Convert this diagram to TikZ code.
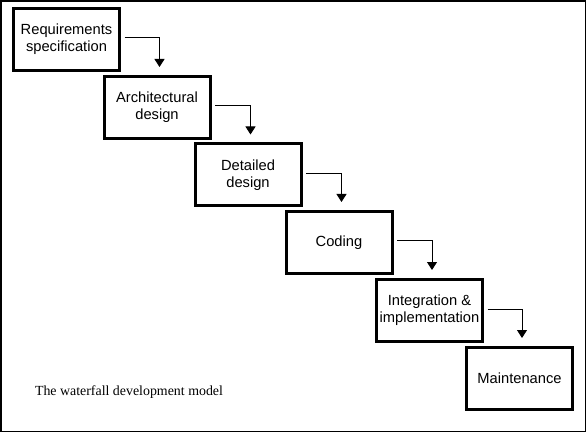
\documentclass[tikz,border=0pt]{standalone}
\usepackage{fontspec}
\setmainfont{Liberation Serif}
\newfontfamily\phasefont{Liberation Sans}
\usetikzlibrary{arrows.meta}

\tikzset{
    phase/.style={draw=black, line width=3pt, minimum width=106pt, minimum height=62pt,
        inner sep=0pt, align=center, font=\phasefont\fontsize{14.7}{17}\selectfont},
    flow/.style={draw=black, line width=1pt, -{Triangle[width=10pt,length=8pt]}}
}

\begin{document}
\begin{tikzpicture}[x=1pt, y=-1pt]
    \useasboundingbox (0,0) rectangle (587,433);
    \draw[line width=1.6pt] (1,1) rectangle (585.5,431.5);

    \node[phase] (req)   at (66.5,39.5)  {Requirements\\specification};
    \node[phase] (arch)  at (157,107.5)  {Architectural\\design};
    \node[phase] (det)   at (248,175)    {Detailed\\design};
    \node[phase] (code)  at (339,242.5)  {Coding};
    \node[phase] (integ) at (429.5,310.5) {Integration \&\\implementation};
    \node[phase] (maint) at (519.5,378.5) {Maintenance};

    \draw[flow] ([xshift=3.5pt,yshift=1.5pt]req.east)   -| ([xshift=2.5pt,yshift=8pt]arch.north);
    \draw[flow] ([xshift=3.5pt,yshift=1.5pt]arch.east)  -| ([xshift=2.5pt,yshift=8pt]det.north);
    \draw[flow] ([xshift=3.5pt,yshift=1.5pt]det.east)   -| ([xshift=2.5pt,yshift=8pt]code.north);
    \draw[flow] ([xshift=3.5pt,yshift=1.5pt]code.east)  -| ([xshift=2.5pt,yshift=8pt]integ.north);
    \draw[flow] ([xshift=3.5pt,yshift=1.5pt]integ.east) -| ([xshift=2.5pt,yshift=8pt]maint.north);

    \node[font=\fontsize{13.9}{16}\selectfont] (caption) at (129,392) {The waterfall development model};
\end{tikzpicture}
\end{document}
